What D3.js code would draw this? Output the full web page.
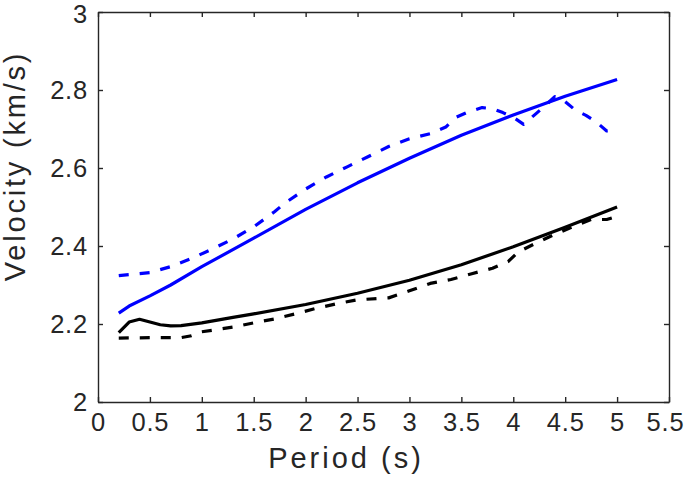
<!DOCTYPE html>
<html>
<head>
<meta charset="utf-8">
<script src="https://cdn.jsdelivr.net/npm/d3@7"></script>
<style>
  html, body { margin: 0; padding: 0; background: #fff; }
  svg { display: block; }
  text { font-family: "Liberation Sans", Arial, Helvetica, sans-serif; fill: #262626; }
</style>
</head>
<body>
<svg id="chart" width="685" height="482"></svg>
<script>
// ---- data ----
const xTicks = [0, 0.5, 1, 1.5, 2, 2.5, 3, 3.5, 4, 4.5, 5, 5.5];
const yTicks = [2, 2.2, 2.4, 2.6, 2.8, 3];

const blueSolidX = [0.2, 0.3, 0.5, 0.7, 1.0, 1.5, 2.0, 2.5, 3.0, 3.5, 4.0, 4.5, 5.0];
const blueSolidY = [2.228, 2.246, 2.272, 2.300, 2.347, 2.420, 2.494, 2.562, 2.625, 2.684, 2.736, 2.784, 2.827];

const blueDashX = [0.2, 0.5, 0.7, 0.9, 1.1, 1.3, 1.5, 1.7, 1.8, 2.0, 2.2, 2.4, 2.6, 2.8, 3.0, 3.2, 3.35, 3.45, 3.55, 3.7, 3.8, 3.9, 4.0, 4.1, 4.2, 4.3, 4.4, 4.5, 4.6, 4.7, 4.8, 4.9, 5.0];
const blueDashY = [2.324, 2.332, 2.347, 2.368, 2.392, 2.418, 2.449, 2.488, 2.510, 2.546, 2.577, 2.603, 2.629, 2.655, 2.675, 2.688, 2.705, 2.730, 2.742, 2.755, 2.752, 2.742, 2.730, 2.712, 2.735, 2.758, 2.783, 2.770, 2.748, 2.735, 2.718, 2.695, 2.697];

const blackSolidX = [0.2, 0.3, 0.4, 0.5, 0.6, 0.7, 0.8, 1.0, 1.3, 1.5, 2.0, 2.5, 3.0, 3.5, 4.0, 4.5, 5.0];
const blackSolidY = [2.178, 2.205, 2.212, 2.205, 2.198, 2.195, 2.196, 2.203, 2.217, 2.226, 2.250, 2.279, 2.312, 2.352, 2.398, 2.448, 2.500];

const blackDashX = [0.2, 0.5, 0.8, 0.9, 1.0, 1.1, 1.3, 1.5, 1.7, 1.9, 2.1, 2.3, 2.5, 2.8, 3.0, 3.2, 3.4, 3.6, 3.8, 3.95, 4.05, 4.2, 4.4, 4.6, 4.75, 4.9, 5.0];
const blackDashY = [2.164, 2.165, 2.165, 2.170, 2.180, 2.184, 2.192, 2.203, 2.213, 2.226, 2.240, 2.252, 2.262, 2.267, 2.285, 2.304, 2.314, 2.329, 2.343, 2.360, 2.385, 2.405, 2.430, 2.452, 2.468, 2.468, 2.476];

// ---- layout ----
const L = 98, R = 669, T = 12, B = 402;
const svg = d3.select("#chart");
const x = d3.scaleLinear().domain([0, 5.5]).range([L, R]);
const y = d3.scaleLinear().domain([2, 3]).range([B, T]);

const axisColor = "#262626";
const tickLen = 5;

// axes
const gx = svg.append("g").attr("transform", `translate(0,${B})`)
  .call(d3.axisBottom(x).tickValues(xTicks).tickFormat(d3.format("")).tickSizeInner(-tickLen).tickSizeOuter(0).tickPadding(11));
const gxTop = svg.append("g").attr("transform", `translate(0,${T})`)
  .call(d3.axisTop(x).tickValues(xTicks).tickFormat("").tickSizeInner(-tickLen).tickSizeOuter(0));
const gy = svg.append("g").attr("transform", `translate(${L},0)`)
  .call(d3.axisLeft(y).tickValues(yTicks).tickFormat(d3.format("")).tickSizeInner(-tickLen).tickSizeOuter(0).tickPadding(10));
const gyR = svg.append("g").attr("transform", `translate(${R},0)`)
  .call(d3.axisRight(y).tickValues(yTicks).tickFormat("").tickSizeInner(-tickLen).tickSizeOuter(0));

[gx, gxTop, gy, gyR].forEach(g => {
  g.select(".domain").attr("stroke", axisColor).attr("stroke-width", 1.4);
  g.selectAll(".tick line").attr("stroke", axisColor).attr("stroke-width", 1.4);
  g.selectAll(".tick text").attr("fill", axisColor)
    .style("font-size", "25.5px").style("letter-spacing", "0.8px")
    .style("font-family", '"Liberation Sans", Arial, sans-serif');
});
gx.selectAll(".tick text").attr("dy", "0.71em");
// keep the edge labels inside the canvas, as in the reference
gx.selectAll(".tick").filter(d => d === 5.5).select("text").attr("x", -4);
gy.selectAll(".tick").filter(d => d === 3).select("text").attr("y", 2);

// lines
const line = d3.line().x(d => x(d[0])).y(d => y(d[1]));
const zip = (a, b) => a.map((v, i) => [v, b[i]]);

const series = [
  { xs: blackDashX, ys: blackDashY, color: "#000000", dash: "10,11" },
  { xs: blackSolidX, ys: blackSolidY, color: "#000000", dash: null },
  { xs: blueDashX, ys: blueDashY, color: "#0000ff", dash: "10,11" },
  { xs: blueSolidX, ys: blueSolidY, color: "#0000ff", dash: null }
];
series.forEach(s => {
  svg.append("path")
    .datum(zip(s.xs, s.ys))
    .attr("d", line)
    .attr("fill", "none")
    .attr("stroke", s.color)
    .attr("stroke-width", 3.2)
    .attr("stroke-linejoin", "round")
    .attr("stroke-dasharray", s.dash);
});

// axis titles
svg.append("text")
  .attr("x", 346).attr("y", 468)
  .attr("text-anchor", "middle")
  .style("font-size", "29px").style("letter-spacing", "3px")
  .attr("fill", axisColor)
  .text("Period (s)");

svg.append("text")
  .attr("transform", `translate(25,166) rotate(-90)`)
  .attr("text-anchor", "middle")
  .style("font-size", "29px").style("letter-spacing", "2.8px")
  .attr("fill", axisColor)
  .text("Velocity (km/s)");
</script>
</body>
</html>
